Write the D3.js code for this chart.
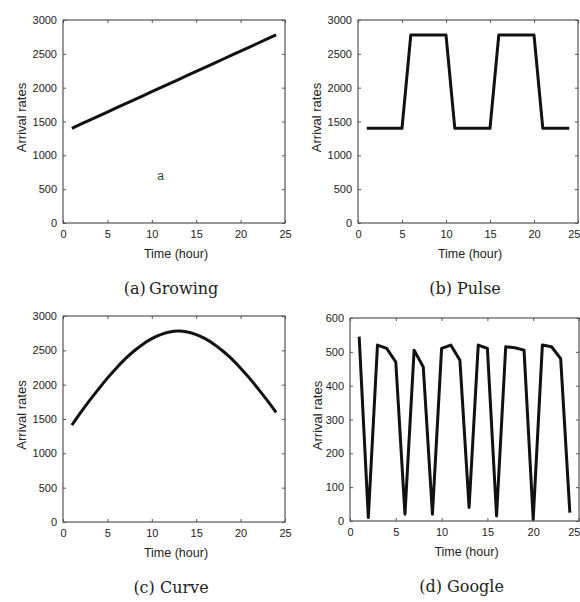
<!doctype html>
<html>
<head>
<script src="https://d3js.org/d3.v7.min.js"></script>
<style>
body { margin: 0; background: #fff; }
svg text { fill: #222; }
</style>
</head>
<body>
<svg width="580" height="602"></svg>
<script>
// hours 1..24
var hours = d3.range(1, 25);
var growing = [1400, 1460, 1520, 1580, 1640, 1700, 1760, 1820, 1880, 1940, 2000, 2060,
               2120, 2180, 2240, 2300, 2360, 2420, 2480, 2540, 2600, 2660, 2720, 2780];
var pulse = [1400, 1400, 1400, 1400, 1400, 2780, 2780, 2780, 2780, 2780, 1400, 1400,
             1400, 1400, 1400, 2780, 2780, 2780, 2780, 2780, 1400, 1400, 1400, 1400];
var curve = [1410, 1595, 1770, 1935, 2095, 2240, 2375, 2490, 2590, 2670, 2730, 2768,
             2780, 2768, 2730, 2670, 2590, 2490, 2375, 2240, 2095, 1935, 1770, 1595];
var google = [545, 10, 520, 510, 470, 20, 505, 455, 20, 510, 520, 475,
              40, 520, 510, 15, 515, 512, 505, 5, 520, 515, 480, 25];

var xTicks = [0, 5, 10, 15, 20, 25];
var rateTicks = [0, 500, 1000, 1500, 2000, 2500, 3000];
var googleTicks = [0, 100, 200, 300, 400, 500, 600];
var captions = ["(a)\u2009Growing", "(b)  Pulse", "(c)  Curve", "(d)  Google"];

var panels = [
  {box: [63, 285, 20, 223], yMax: 3000, yTicks: rateTicks, values: growing, cap: captions[0], labX: 41},
  {box: [358, 578, 20, 223], yMax: 3000, yTicks: rateTicks, values: pulse, cap: captions[1], labX: 41},
  {box: [63, 285, 316, 522], yMax: 3000, yTicks: rateTicks, values: curve, cap: captions[2], labX: 41},
  {box: [350, 579, 318, 521], yMax: 600, yTicks: googleTicks, values: google, cap: captions[3], labX: 32}
];

var svg = d3.select("svg");
var sans = "Liberation Sans, Arial, sans-serif";

panels.forEach(function(p, i) {
  var l = p.box[0], r = p.box[1], t = p.box[2], b = p.box[3];
  var x = d3.scaleLinear().domain([0, 25]).range([l, r]);
  var y = d3.scaleLinear().domain([0, p.yMax]).range([b, t]);
  var g = svg.append("g");

  g.append("rect")
    .attr("x", l).attr("y", t).attr("width", r - l).attr("height", b - t)
    .attr("fill", "none").attr("stroke", "#333").attr("stroke-width", 1);

  // inward ticks, mirrored on top and right
  var ax = g.append("g").attr("transform", "translate(0," + b + ")")
    .call(d3.axisBottom(x).tickValues(xTicks).tickSize(-3).tickPadding(7).tickFormat(d3.format("d")));
  var axT = g.append("g").attr("transform", "translate(0," + t + ")")
    .call(d3.axisTop(x).tickValues(xTicks).tickSize(-3).tickFormat(""));
  var ay = g.append("g").attr("transform", "translate(" + l + ",0)")
    .call(d3.axisLeft(y).tickValues(p.yTicks).tickSize(-3).tickPadding(6).tickFormat(d3.format("d")));
  var ayR = g.append("g").attr("transform", "translate(" + r + ",0)")
    .call(d3.axisRight(y).tickValues(p.yTicks).tickSize(-3).tickFormat(""));
  [ax, axT, ay, ayR].forEach(function(a) {
    a.select(".domain").remove();
    a.selectAll("line").attr("stroke", "#555");
    a.selectAll("text").attr("font-family", sans)
      .attr("font-size", 11).attr("fill", "#222");
  });
  // keep the last x label inside the page edge
  ax.selectAll(".tick text")
    .filter(function(d) { return x(d) + 7 > 580; })
    .attr("text-anchor", "end").attr("dx", 580 - r);

  g.append("text")
    .attr("x", (l + r) / 2 + 2).attr("y", b + 35)
    .attr("text-anchor", "middle")
    .attr("font-family", sans).attr("font-size", 12.5)
    .text("Time (hour)");

  g.append("text")
    .attr("transform", "translate(" + (l - p.labX + 4) + "," + ((t + b) / 2 - 4) + ") rotate(-90)")
    .attr("text-anchor", "middle")
    .attr("font-family", sans).attr("font-size", 13)
    .text("Arrival rates");

  g.append("text")
    .attr("x", (l + r) / 2 - 3).attr("y", b + 71)
    .attr("text-anchor", "middle")
    .attr("font-family", "DejaVu Serif, serif").attr("font-size", 16)
    .text(p.cap);

  var line = d3.line().x(function(d, k) { return x(hours[k]); }).y(function(d) { return y(d); });
  if (i === 2) line.curve(d3.curveMonotoneX);
  g.append("path").datum(p.values)
    .attr("d", line)
    .attr("fill", "none").attr("stroke", "#111").attr("stroke-width", 3)
    .attr("stroke-linejoin", "round");

  if (i === 0) {
    g.append("text")
      .attr("x", x(11)).attr("y", y(700) + 4)
      .attr("text-anchor", "middle")
      .attr("font-family", sans).attr("font-size", 12)
      .style("fill", "#2e4a2e")
      .text("a");
  }
});
</script>
</body>
</html>
